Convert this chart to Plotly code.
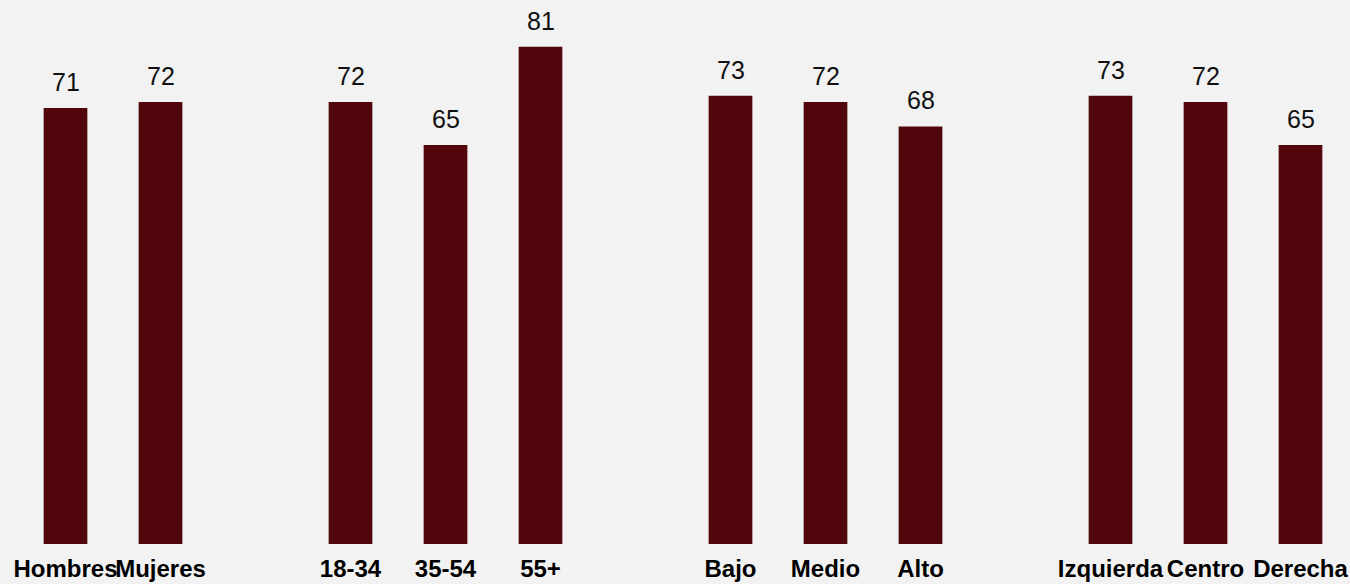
import plotly.graph_objects as go

# groups of categories, with an empty slot between groups
groups = [
    ["Hombres", "Mujeres"],
    ["18-34", "35-54", "55+"],
    ["Bajo", "Medio", "Alto"],
    ["Izquierda", "Centro", "Derecha"],
]
values = [71, 72, 72, 65, 81, 73, 72, 68, 73, 72, 65]

labels = []
xpos = []
slot = 0
for g in groups:
    for name in g:
        labels.append(name)
        xpos.append(slot)
        slot += 1
    slot += 1  # gap between groups

bar_color = "#50060a"
bg = "#f2f2f2"

fig = go.Figure(go.Bar(
    x=xpos, y=values, width=0.46,
    marker=dict(color=bar_color, line=dict(width=0)),
    hoverinfo="skip",
))

for x, v in zip(xpos, values):
    fig.add_annotation(x=x, y=v, text=str(v), showarrow=False,
                       yanchor="bottom", yshift=10,
                       font=dict(size=25, color="#111111", family="Liberation Sans, Arial"))

fig.update_layout(
    width=1350, height=584,
    margin=dict(l=18, r=2, t=0, b=40, autoexpand=False),
    paper_bgcolor=bg, plot_bgcolor=bg,
    showlegend=False,
    font=dict(family="Liberation Sans, Arial", color="black"),
    xaxis=dict(range=[-0.5, slot - 1.5], tickvals=xpos, ticktext=[f"<b>{t}</b>" for t in labels],
               tickfont=dict(size=24, color="black"), tickangle=0, showgrid=False, zeroline=False,
               showline=False, ticks="", ticklabelstandoff=8, ticklabeloverflow="allow"),
    yaxis=dict(range=[0, 88.6], visible=False, showgrid=False, zeroline=False),
)

fig.write_html("out.html", config={"displayModeBar": False},
               post_script="document.body.style.margin='0';")
